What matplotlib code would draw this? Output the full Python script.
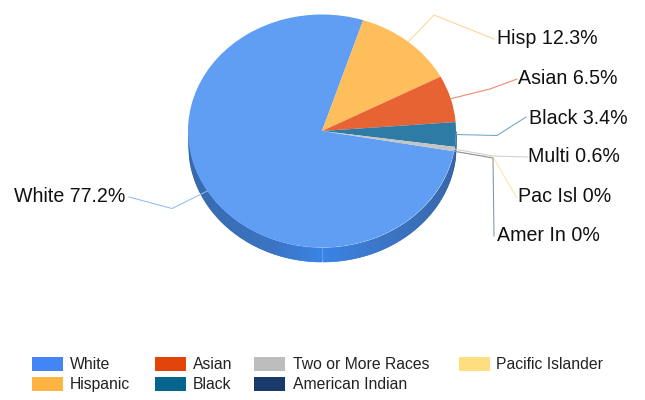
import numpy as np
import matplotlib
matplotlib.use("Agg")
import matplotlib.pyplot as plt
from matplotlib.colors import LinearSegmentedColormap
from matplotlib.patches import Rectangle

plt.rcParams['font.family'] = ['Liberation Sans', 'DejaVu Sans']

# slices, clockwise from the white one
short_labels = ["White", "Hisp", "Asian", "Black", "Multi", "Pac Isl", "Amer In"]
values = [77.2, 12.3, 6.5, 3.4, 0.6, 0, 0]
pie_colors = ["#5f9ef2", "#ffbe5c", "#e86334", "#2e7ba6", "#c4c4c4", "#ffe08a", "#2a4a7c"]
line_colors = ["#8dbcf7", "#ffd596", "#ee8468", "#6fa5c4", "#cfcfcf", "#ffe6a6", "#7d90b0"]

legend_names = ["White", "Hispanic", "Asian", "Black", "Two or More Races", "American Indian", "Pacific Islander"]
legend_colors = ["#4285f4", "#ffb340", "#e24409", "#03658c", "#bdbdbd", "#1a3a6b", "#ffde80"]

# layout in pixels
W, H = 645, 400
cx, cy, rx, ry, depth = 322, 131, 134, 116.5, 14
start = 100  # degrees clockwise from the top

elbows = [(172, 208.5), (434, 15), (490, 89), (497, 135.5), (493, 156), (493, 157), (493, 158)]
line_ends = [(129, 197), (494, 39), (517, 79), (526, 117), (528, 157), (517, 198), (494, 236)]
label_pos = [(125, 194.5), (497, 36.5), (518, 76.5), (529, 116.5), (528, 155), (518, 194.5), (497, 233.5)]
label_ha = ["right", "left", "left", "left", "left", "left", "left"]

fig = plt.figure(figsize=(W / 100, H / 100), dpi=100)

# overlay in pixel coords
ax = fig.add_axes([0, 0, 1, 1], zorder=1)
ax.set_xlim(0, W)
ax.set_ylim(H, 0)
ax.axis("off")

# side wall of the pie
wall = LinearSegmentedColormap.from_list(
    "wall", [(0, "#2f62a8"), (0.3, "#3470c0"), (0.5, "#3a84e6"), (0.7, "#3673c8"), (1, "#2e5fa5")])
xs = np.linspace(cx - rx, cx + rx, 270)
for a, b in zip(xs[:-1], xs[1:]):
    xx = np.array([a, b])
    yy = cy + ry * np.sqrt(np.clip(1 - ((xx - cx) / rx) ** 2, 0, 1))
    c = wall((a - xs[0]) / (xs[-1] - xs[0]))
    ax.fill_between(xx, yy, yy + depth, color=c, lw=0.4)

# top face: unit circle stretched to the ellipse
pie_ax = fig.add_axes([(cx - rx) / W, 1 - (cy + ry) / H, 2 * rx / W, 2 * ry / H], zorder=2)
pie_ax.pie(values, colors=pie_colors, startangle=90 - start, counterclock=False, radius=1)
pie_ax.set_aspect("auto")
pie_ax.set_xlim(-1, 1)
pie_ax.set_ylim(-1, 1)
pie_ax.axis("off")

# leader lines and labels on top of everything
top = fig.add_axes([0, 0, 1, 1], zorder=3)
top.set_xlim(0, W)
top.set_ylim(H, 0)
top.axis("off")
top.patch.set_alpha(0)

total = sum(values)
angle = start
for i, v in enumerate(values):
    mid = np.radians(angle + v / total * 180)
    angle += v / total * 360
    x0 = cx + rx * np.sin(mid)
    y0 = cy - ry * np.cos(mid)
    top.plot([x0, elbows[i][0], line_ends[i][0]], [y0, elbows[i][1], line_ends[i][1]],
             color=line_colors[i], lw=0.75, solid_joinstyle="miter")
    top.text(label_pos[i][0], label_pos[i][1], f"{short_labels[i]} {v:g}%", fontsize=14.1,
             ha=label_ha[i], va="center_baseline", color="#111111")

# legend, filled column by column
swatch_x = [32, 32, 155, 155, 254, 254, 459]
text_x = [70, 70, 193, 193, 293, 293, 496]
row_y = [364, 384, 364, 384, 364, 384, 364]
for i, name in enumerate(legend_names):
    top.add_patch(Rectangle((swatch_x[i], row_y[i] - 7), 31, 14, color=legend_colors[i], lw=0))
    top.text(text_x[i], row_y[i] - 1, name, fontsize=11.35, ha="left", va="center_baseline", color="#222222")

fig.savefig("out.png", dpi=100)
